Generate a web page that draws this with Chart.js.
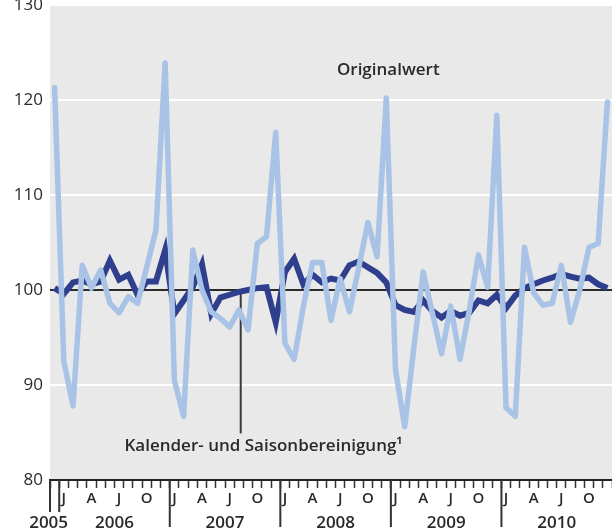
<!DOCTYPE html>
<html><head><meta charset="utf-8">
<script src="https://cdn.jsdelivr.net/npm/chart.js@4"></script>
<style>html,body{margin:0;padding:0;background:#fff}#wrap{width:612px;height:532px}</style>
</head><body><div id="wrap"><canvas id="c" width="612" height="532"></canvas></div>
<script>
const categories = [
 '2005-12',
 '2006-01','2006-02','2006-03','2006-04','2006-05','2006-06','2006-07','2006-08','2006-09','2006-10','2006-11','2006-12',
 '2007-01','2007-02','2007-03','2007-04','2007-05','2007-06','2007-07','2007-08','2007-09','2007-10','2007-11','2007-12',
 '2008-01','2008-02','2008-03','2008-04','2008-05','2008-06','2008-07','2008-08','2008-09','2008-10','2008-11','2008-12',
 '2009-01','2009-02','2009-03','2009-04','2009-05','2009-06','2009-07','2009-08','2009-09','2009-10','2009-11','2009-12',
 '2010-01','2010-02','2010-03','2010-04','2010-05','2010-06','2010-07','2010-08','2010-09','2010-10','2010-11','2010-12'
];
const originalwert = [
 121.3,
 92.5, 87.8, 102.6, 100.2, 102.1, 98.6, 97.6, 99.3, 98.6, 102.4, 106.3, 123.9,
 90.5, 86.7, 104.2, 100.0, 97.7, 97.0, 96.1, 97.9, 95.8, 104.9, 105.6, 116.6,
 94.4, 92.7, 98.3, 102.9, 102.9, 96.8, 101.2, 97.7, 102.3, 107.1, 103.5, 120.2,
 91.6, 85.6, 94.0, 101.9, 97.6, 93.3, 98.3, 92.7, 97.8, 103.7, 100.3, 118.4,
 87.6, 86.7, 104.5, 99.7, 98.4, 98.6, 102.6, 96.6, 100.0, 104.5, 104.9, 119.8
];
const bereinigt = [
 100.2,
 99.6, 100.8, 101.0, 100.6, 100.9, 103.1, 101.1, 101.6, 99.5, 100.9, 100.9, 104.2,
 97.5, 98.9, 100.3, 102.7, 97.5, 99.2, 99.5, 99.8, 100.0, 100.2, 100.3, 96.6,
 101.9, 103.3, 100.6, 101.6, 100.8, 101.2, 101.0, 102.6, 103.0, 102.4, 101.8, 100.8,
 98.4, 97.9, 97.7, 98.9, 97.8, 97.1, 97.8, 97.3, 97.6, 98.9, 98.6, 99.5,
 98.1, 99.4, 100.2, 100.6, 101.0, 101.3, 101.7, 101.4, 101.2, 101.3, 100.6, 100.2
];
const monthTickLabels = { '01': 'J', '04': 'A', '07': 'J', '10': 'O' };
const yearLabels = ['2005', '2006', '2007', '2008', '2009', '2010'];
const yTicks = [80, 90, 100, 110, 120, 130];
const referenceValue = 100;
const labelOriginal = 'Originalwert';
const labelBereinigt = 'Kalender- und Saisonbereinigung\u00B9';

const TEXT = '#2a2a2a';
const FONT = '"Open Sans", "Noto Sans", sans-serif';

const decorPlugin = {
  id: 'decor',
  beforeDraw(chart) {
    const { ctx, chartArea: a } = chart;
    ctx.save();
    ctx.fillStyle = '#e9e9e9';
    ctx.fillRect(a.left, a.top, a.right - a.left, a.bottom - a.top);
    ctx.restore();
  },
  beforeDatasetsDraw(chart) {
    const { ctx } = chart;
    const x = chart.scales.x, y = chart.scales.y;
    const step = x.getPixelForValue(1) - x.getPixelForValue(0);
    const lx = x.getPixelForValue(20) + step * 0.2;
    ctx.save();
    ctx.strokeStyle = '#3a3a3a';
    ctx.lineWidth = 2;
    ctx.beginPath();
    ctx.moveTo(lx, y.getPixelForValue(bereinigt[20]));
    ctx.lineTo(lx, y.getPixelForValue(84.9));
    ctx.stroke();
    ctx.restore();
  },
  afterDraw(chart) {
    const { ctx, chartArea: a } = chart;
    const x = chart.scales.x, y = chart.scales.y;
    const step = x.getPixelForValue(1) - x.getPixelForValue(0);
    ctx.save();
    ctx.fillStyle = TEXT;
    ctx.font = '600 17px ' + FONT;
    ctx.textAlign = 'center';
    ctx.textBaseline = 'middle';
    ctx.fillText(labelOriginal, x.getPixelForValue(36) + 2, y.getPixelForValue(123.1));
    ctx.fillText(labelBereinigt, x.getPixelForValue(23) - 3, y.getPixelForValue(83.6));
    ctx.strokeStyle = '#333';
    ctx.lineWidth = 2;
    const b0 = x.getPixelForValue(0) - step / 2;
    const bounds = [b0];
    for (let i = 1; i < categories.length; i++) {
      if (categories[i].endsWith('-01')) bounds.push(x.getPixelForValue(i) - step / 2);
    }
    bounds.forEach((bx, k) => {
      const len = k < 2 ? 32 : 47;
      ctx.beginPath();
      ctx.moveTo(bx, a.bottom);
      ctx.lineTo(bx, a.bottom + len);
      ctx.stroke();
    });
    ctx.font = '600 17px ' + FONT;
    ctx.textBaseline = 'middle';
    ctx.fillText(yearLabels[0], x.getPixelForValue(0) - 6, a.bottom + 43);
    for (let k = 1; k < yearLabels.length; k++) {
      const start = bounds[k];
      const end = start + step * 12;
      ctx.fillText(yearLabels[k], (start + end) / 2, a.bottom + 43);
    }
    ctx.restore();
  }
};

new Chart(document.getElementById('c'), {
  type: 'line',
  data: {
    labels: categories,
    datasets: [
      { label: labelOriginal, data: originalwert, borderColor: '#a8c3e6', borderWidth: 5.5,
        pointRadius: 0, tension: 0, borderJoinStyle: 'round', borderCapStyle: 'round' },
      { label: labelBereinigt, data: bereinigt, borderColor: '#2f3f8e', borderWidth: 6,
        pointRadius: 0, tension: 0, borderJoinStyle: 'miter', borderCapStyle: 'butt' }
    ]
  },
  options: {
    responsive: false,
    animation: false,
    devicePixelRatio: 1,
    layout: { padding: { top: 5, right: 0, left: 0, bottom: 0 } },
    plugins: { legend: { display: false }, tooltip: { enabled: false } },
    scales: {
      x: {
        type: 'category',
        offset: true,
        grid: { offset: true, drawOnChartArea: false, drawTicks: true, tickLength: 8, tickColor: '#333', tickWidth: 1.5 },
        border: { display: true, color: '#222', width: 2 },
        ticks: {
          autoSkip: false, maxRotation: 0, minRotation: 0, padding: 2,
          color: TEXT, font: { family: FONT, size: 15, weight: '600' },
          callback: (v, i) => monthTickLabels[categories[i].slice(5)] || ''
        },
        afterFit: s => { s.height = 52; s.paddingLeft = 0; s.paddingRight = 0; }
      },
      y: {
        min: 80, max: 130,
        afterBuildTicks: s => { s.ticks = yTicks.map(v => ({ value: v })); },
        ticks: { color: TEXT, font: { family: FONT, size: 17 }, padding: 7 },
        grid: {
          drawTicks: false,
          color: c => c.tick.value === referenceValue ? '#2b2b2b' : (c.tick.value === 80 ? 'rgba(0,0,0,0)' : '#ffffff'),
          lineWidth: 2
        },
        border: { display: false },
        afterFit: s => { s.width = 50; s.paddingTop = 0; s.paddingBottom = 0; }
      }
    }
  },
  plugins: [decorPlugin]
});
</script>
</body></html>
